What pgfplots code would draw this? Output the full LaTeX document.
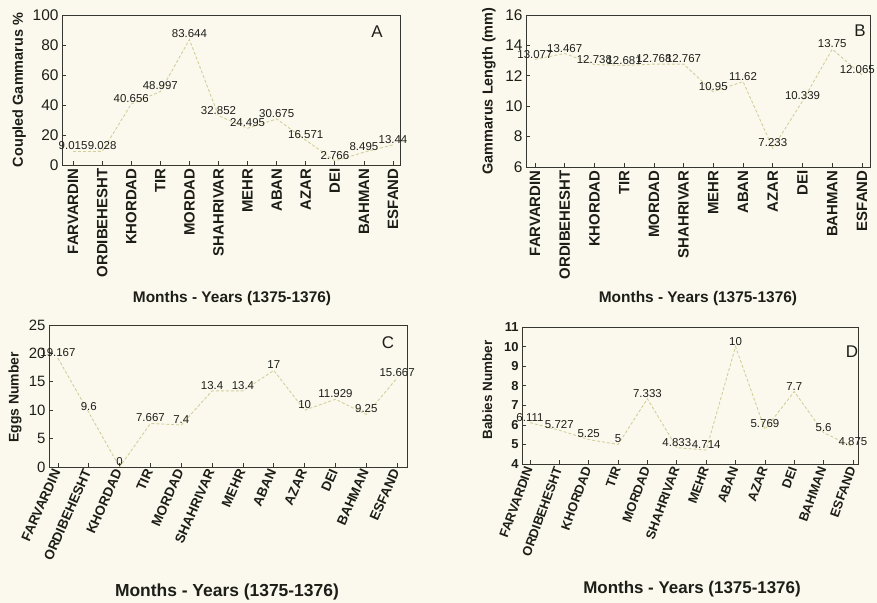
\documentclass[border=0pt]{standalone}
\usepackage{fontspec}
\setmainfont{Liberation Sans}
\usepackage{pgfplots}
\pgfplotsset{compat=1.18}
\definecolor{bgcol}{RGB}{251,249,238}
\definecolor{txtcol}{RGB}{30,30,25}
\definecolor{axcol}{RGB}{55,55,50}
\definecolor{lncol}{RGB}{210,207,155}
\newcommand{\fs}[1]{\fontsize{#1}{#1}\selectfont}
\pgfplotsset{
  panel/.style={
    scale only axis, anchor=south west,
    axis line style={draw=axcol, line width=0.9pt},
    tick align=inside, xtick pos=bottom, ytick pos=left,
    major tick length=3.5bp,
    tick style={draw=axcol, line width=0.7pt},
    xtick={0,...,11},
    xticklabels={FARVARDIN,ORDIBEHESHT,KHORDAD,TIR,MORDAD,SHAHRIVAR,MEHR,ABAN,AZAR,DEI,BAHMAN,ESFAND},
    /pgf/number format/assume math mode=true,
    nodes near coords, point meta=explicit symbolic,
    every node near coord/.style={font=\fs{11.5}, text=txtcol, anchor=south, yshift=0bp, inner sep=1pt},
    ylabel style={font=\bfseries\fs{14}, text=txtcol, anchor=center},
    xlabel style={font=\bfseries\fs{15.5}, text=txtcol, anchor=center},
    yticklabel style={text=txtcol},
    xticklabel style={text=txtcol, font=\bfseries\fs{15}},
    xlabel={Months - Years (1375-1376)},
  },
  ser/.style={draw=lncol, dashed, dash pattern=on 3pt off 2pt, line width=0.9pt, mark=none},
}
\begin{document}
\begin{tikzpicture}[x=1bp,y=1bp]
\useasboundingbox (0,0) rectangle (877,603);
\fill[bgcol] (0,0) rectangle (877,603);

% Panel A
\begin{axis}[panel, at={(62bp,438bp)}, width=338bp, height=150bp,
  xmin=-0.38, xmax=11.24, ymin=0, ymax=100, ytick={0,20,...,100},
  yticklabel style={font=\fs{15.5}},
  xticklabel style={rotate=90, anchor=east},
  ylabel={Coupled Gammarus \%},
  ylabel style={at={(axis description cs:-0.127,0.5)}, font=\bfseries\fs{14.5}},
  xlabel style={at={(axis description cs:0.503,-0.887)}}]
\addplot[ser] coordinates {(0,9.015)[9.015] (1,9.028)[9.028] (2,40.656)[40.656] (3,48.997)[48.997] (4,83.644)[83.644] (5,32.852)[32.852] (6,24.495)[24.495] (7,30.675)[30.675] (8,16.571)[16.571] (9,2.766)[2.766] (10,8.495)[8.495] (11,13.44)[13.44]};
\node[font=\fs{17}, text=txtcol] at (axis description cs:0.932,0.887) {A};
\end{axis}

% Panel B
\begin{axis}[panel, at={(526bp,436bp)}, width=344bp, height=152bp,
  xmin=-0.3, xmax=11.27, ymin=6, ymax=16, ytick={6,8,...,16},
  yticklabel style={font=\fs{15.5}},
  xticklabel style={rotate=90, anchor=east},
  ylabel={Gammarus Length (mm)},
  ylabel style={at={(axis description cs:-0.108,0.5)}, font=\bfseries\fs{14.5}},
  xlabel style={at={(axis description cs:0.5,-0.862)}}]
\addplot[ser, nodes near coords=] coordinates {(0,13.077) (1,13.467) (2,12.738) (3,12.681) (4,12.768) (5,12.767) (6,10.95) (7,11.62) (8,7.233) (9,10.339) (10,13.75) (11,12.065)};
\addplot[draw=none, mark=none] coordinates {(0,13.077)[13.077] (1,13.467)[13.467] (2,12.738)[12.738] (3,12.681)[12.681] (4,12.768)[12.768] (5,12.767)[12.767] (6,10.95)[10.95] (7,11.62)[11.62] (8,7.233)[7.233] (9,10.339)[10.339] (10,13.75)[13.75]};
\addplot[draw=none, mark=none, every node near coord/.append style={anchor=south east, xshift=14bp}] coordinates {(11,12.065)[12.065]};
\node[font=\fs{17}, text=txtcol] at (axis description cs:0.971,0.90) {B};
\end{axis}

% Panel C
\begin{axis}[panel, at={(49bp,136bp)}, width=358bp, height=142bp,
  xmin=-0.29, xmax=11.32, ymin=0, ymax=25, ytick={0,5,...,25},
  yticklabel style={font=\fs{15}},
  xticklabel style={rotate=66, anchor=east, font=\bfseries\fs{13.5}},
  ylabel={Eggs Number},
  ylabel style={at={(axis description cs:-0.095,0.49)}, font=\bfseries\fs{14}},
  xlabel style={at={(axis description cs:0.497,-0.88)}, font=\bfseries\fs{17.5}}]
\addplot[ser] coordinates {(0,19.167)[19.167] (1,9.6)[9.6] (2,0)[0] (3,7.667)[7.667] (4,7.4)[7.4] (5,13.4)[13.4] (6,13.4)[13.4] (7,17)[17] (8,10)[10] (9,11.929)[11.929] (10,9.25)[9.25] (11,15.667)[15.667]};
\node[font=\fs{17}, text=txtcol] at (axis description cs:0.947,0.873) {C};
\end{axis}

% Panel D
\begin{axis}[panel, at={(522bp,139bp)}, width=336bp, height=137bp,
  xmin=-0.27, xmax=11.17, ymin=4, ymax=11, ytick={4,5,...,11},
  yticklabel style={font=\bfseries\fs{13}},
  xticklabel style={rotate=70, anchor=east, font=\bfseries\fs{13}},
  ylabel={Babies Number},
  ylabel style={at={(axis description cs:-0.103,0.54)}, font=\bfseries\fs{13.5}},
  xlabel style={at={(axis description cs:0.506,-0.912)}, font=\bfseries\fs{17}}]
\addplot[ser] coordinates {(0,6.111)[6.111] (1,5.727)[5.727] (2,5.25)[5.25] (3,5)[5] (4,7.333)[7.333] (5,4.833)[4.833] (6,4.714)[4.714] (7,10)[10] (8,5.769)[5.769] (9,7.7)[7.7] (10,5.6)[5.6] (11,4.875)[4.875]};
\node[font=\fs{17}, text=txtcol] at (axis description cs:0.982,0.818) {D};
\end{axis}
\end{tikzpicture}
\end{document}
